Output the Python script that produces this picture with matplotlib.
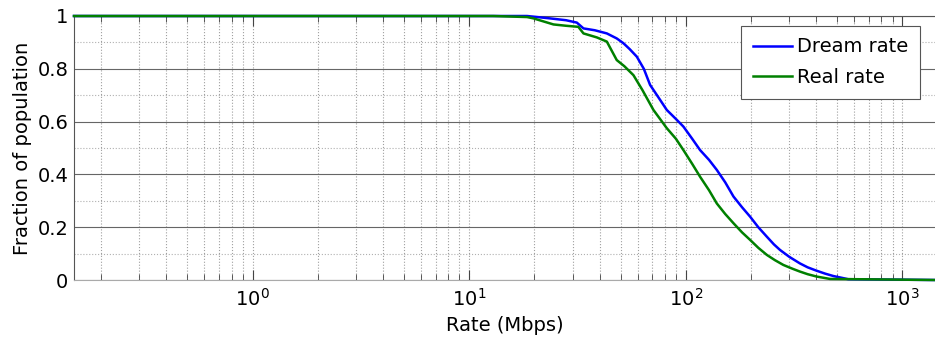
import numpy as np
import matplotlib
matplotlib.use("Agg")
import matplotlib.pyplot as plt
from matplotlib.ticker import LogLocator, MultipleLocator, FixedLocator, FixedFormatter

# CCDF of rates
dream_x = [0.15, 18.5, 23.6, 28, 31.4, 33.7, 38, 43.2, 48, 51.5, 55, 59.4, 64, 68.4,
           75, 81.7, 90, 97.5, 107, 116.4, 128, 139, 152, 166, 182, 198, 216,
           236.6, 255, 272, 300, 336, 365, 402, 440, 480, 520, 562, 1413]
dream_y = [1.0, 1.0, 0.991, 0.984, 0.975, 0.953, 0.946, 0.934, 0.915, 0.897, 0.875, 0.846, 0.80, 0.739,
           0.69, 0.644, 0.61, 0.581, 0.535, 0.492, 0.455, 0.417, 0.37, 0.316, 0.275, 0.24, 0.20,
           0.164, 0.135, 0.114, 0.088, 0.063, 0.048, 0.035, 0.024, 0.015, 0.009, 0.003, 0.0]

real_x = [0.15, 12.9, 18.5, 19.8, 24.5, 28, 31.9, 33.7, 38.8, 43.2, 48, 52, 57.3, 63, 70.9,
          81.7, 90, 97.5, 107, 116.4, 128, 139, 152, 166, 182, 198, 216, 236.6,
          258, 282, 310, 336, 365, 402, 463, 1413]
real_y = [1.0, 1.0, 0.996, 0.991, 0.968, 0.963, 0.959, 0.934, 0.919, 0.903, 0.833, 0.81, 0.776, 0.72, 0.644,
          0.575, 0.535, 0.492, 0.44, 0.391, 0.34, 0.29, 0.25, 0.215, 0.18, 0.152, 0.122, 0.095,
          0.075, 0.057, 0.043, 0.032, 0.022, 0.013, 0.004, 0.0]

y_ticks = [0, 0.2, 0.4, 0.6, 0.8, 1]
y_labels = ["0", "0.2", "0.4", "0.6", "0.8", "1"]

plt.rcParams['font.family'] = 'DejaVu Sans'
fig = plt.figure(figsize=(9.35, 3.5), dpi=100)
ax = fig.add_axes([74 / 935, 70 / 350, 861 / 935, 264 / 350])

ax.plot(dream_x, dream_y, color=(0, 0, 1), lw=1.8, label="Dream rate", zorder=3, clip_on=False)
ax.plot(real_x, real_y, color=(0, 0.5, 0), lw=1.8, label="Real rate", zorder=3, clip_on=False)

ax.set_xscale("log")
ax.set_xlim(0.15, 1413)
ax.set_ylim(0, 1)

ax.xaxis.set_major_locator(LogLocator(base=10, numticks=10))
ax.xaxis.set_minor_locator(LogLocator(base=10, subs=np.arange(2, 10), numticks=20))
ax.yaxis.set_major_locator(FixedLocator(y_ticks))
ax.yaxis.set_major_formatter(FixedFormatter(y_labels))
ax.yaxis.set_minor_locator(MultipleLocator(0.1))

# grid: solid major y, dotted everything else
ax.grid(True, which="major", axis="y", color="#666666", lw=0.8, ls="-")
ax.grid(True, which="minor", axis="y", color="#b0b0b0", lw=0.8, ls=":")
ax.grid(True, which="both", axis="x", color="#a0a0a0", lw=0.8, ls=":")
ax.set_axisbelow(True)

ax.tick_params(axis="both", which="both", direction="in", top=True, right=False,
               labelsize=14, color="#444444")
ax.tick_params(axis="x", which="major", length=7, width=0.8, pad=6)
ax.tick_params(axis="x", which="minor", length=4, width=0.6)
ax.tick_params(axis="y", which="major", length=0, pad=4)
ax.tick_params(axis="y", which="minor", length=0)

for side in ["top", "left"]:
    ax.spines[side].set_color("#555555")
    ax.spines[side].set_linewidth(0.8)
ax.spines["bottom"].set_color("#aaaaaa")
ax.spines["right"].set_visible(False)

ax.set_xlabel("Rate (Mbps)", fontsize=14, labelpad=4)
ax.set_ylabel("Fraction of population", fontsize=14, labelpad=4)

leg = ax.legend(loc="upper right", bbox_to_anchor=(0.983, 0.963), fontsize=14,
                frameon=True, fancybox=False, framealpha=1, edgecolor="#555555",
                handlelength=2.0, handletextpad=0.3, borderpad=0.6, labelspacing=0.6,
                borderaxespad=0)
leg.get_frame().set_linewidth(0.8)
leg.set_zorder(5)

fig.savefig("out.png", dpi=100)
